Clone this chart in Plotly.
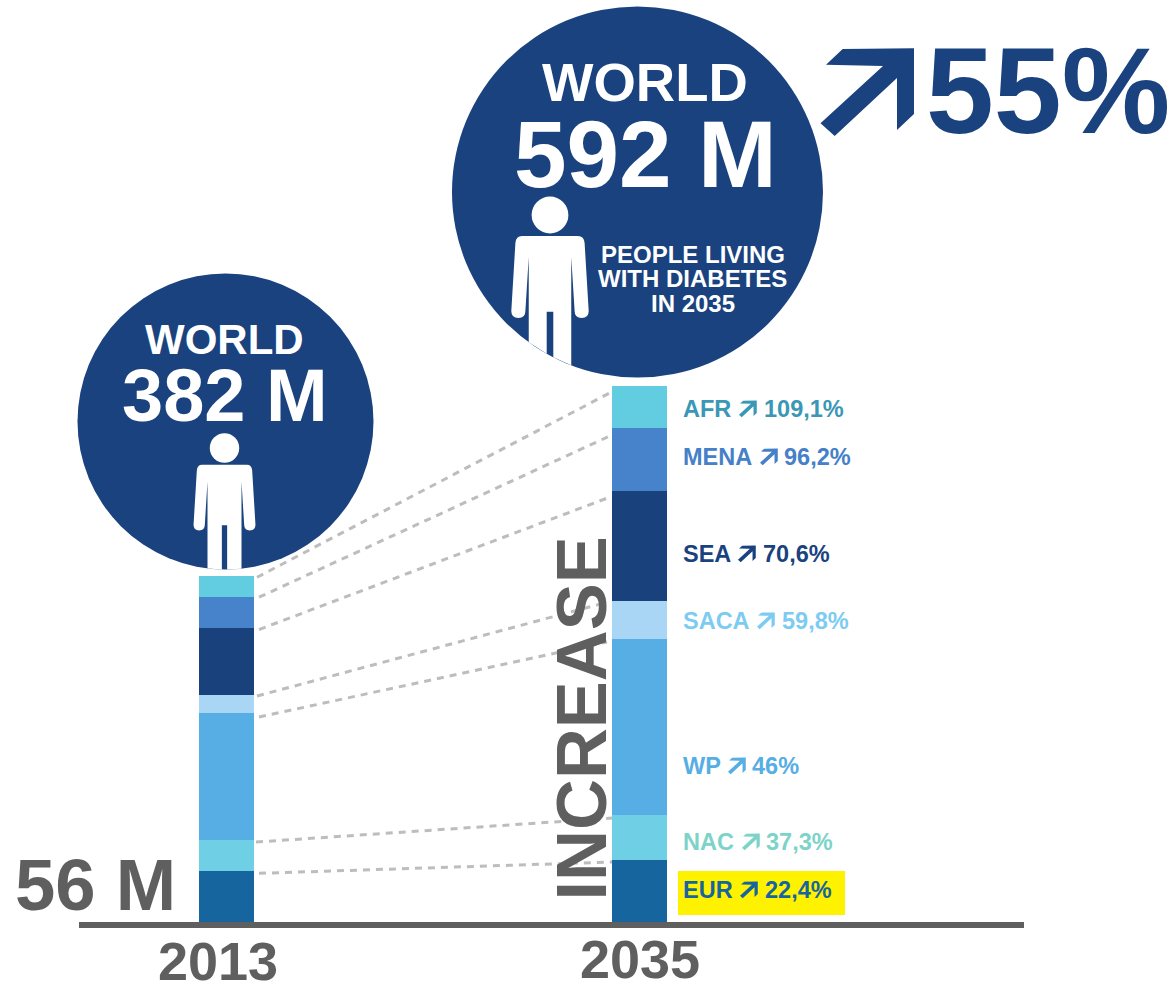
import math
import plotly.graph_objects as go

W, H = 1174, 987
FONT = "Liberation Sans"
GREY = "#5f5f5f"
NAVY = "#19427e"

# Diabetes prevalence in millions, listed from the base of each column upward
regions = ["EUR", "NAC", "WP", "SACA", "SEA", "MENA", "AFR"]
years = [2013, 2035]
people_2013 = [56, 34.6, 140.3, 19.9, 74, 34.1, 23.1]
people_2035 = [68.5, 49.7, 194.5, 42, 121.5, 69.7, 46.6]
growth = ["22,4%", "37,3%", "46%", "59,8%", "70,6%", "96,2%", "109,1%"]

bar_colors = ["#17659f", "#6fcfe4", "#57aee4", "#a9d6f5", "#19417c", "#4783ca", "#62cce0"]
text_colors = ["#17659f", "#7dd3c8", "#56aee4", "#7ecbf2", "#19427e", "#4580c8", "#3a97b5"]

# Axis calibration: pixels per million and per year, and the pixel of the origin
PX_PER_M = 0.905
BASE_PX = 922
PX_PER_YEAR = 413 / 22
BAR_2013_PX = 226.5
BAR_W = 55 / PX_PER_YEAR


def px(x, y):
    return x / W, 1 - y / H


def val_from_offset(v, offset_px):
    return v - offset_px / PX_PER_M


fig = go.Figure()

# Dashed links between the two columns, running from each segment top
top13 = top35 = 0
tops = []
for a, b in zip(people_2013, people_2035):
    top13 += a
    top35 += b
    tops.append((top13, top35))

start_drop = [2, 2, 4, 1, 1.5, 0, 1]
end_drop = [2, 3, 3, 1, 6, 7, 6]
start_gap = [5, 2, 5, 3, 5, 5, 3]
end_gap = [0, 0, 5, 4, 2, 0, 0]
for (t13, t35), d0, d1, g0, g1 in zip(tops, start_drop, end_drop, start_gap, end_gap):
    fig.add_trace(go.Scatter(
        x=[2013 + BAR_W / 2 + g0 / PX_PER_YEAR, 2035 - BAR_W / 2 - g1 / PX_PER_YEAR],
        y=[val_from_offset(t13, d0), val_from_offset(t35, d1)],
        mode="lines",
        line=dict(color="#bdbdbd", width=3, dash="7px,6px"),
        hoverinfo="skip",
        showlegend=False,
    ))

# Stacked regional columns
for name, a, b, col in zip(regions, people_2013, people_2035, bar_colors):
    fig.add_trace(go.Bar(
        x=years, y=[a, b], name=name, width=BAR_W,
        marker=dict(color=col, line=dict(width=0)),
        showlegend=False,
    ))


def polygon(points):
    parts = []
    for i, (x, y) in enumerate(points):
        u, v = px(x, y)
        parts.append(f"{'M' if i == 0 else 'L'}{u:.5f},{v:.5f}")
    return " ".join(parts) + " Z"


def disc(cx, cy, r, color):
    x0, y0 = px(cx - r, cy - r)
    x1, y1 = px(cx + r, cy + r)
    return dict(type="circle", xref="paper", yref="paper", x0=x0, x1=x1, y0=y0, y1=y1,
                fillcolor=color, line=dict(width=0), layer="below")


ARROW = [(843.7, 49), (915, 48.3), (915, 114), (898, 130), (898, 78), (835.7, 136),
         (821.5, 123.3), (884, 66), (827, 64.7)]


def arrow(x, y, color, scale=1.0):
    return dict(type="path", xref="paper", yref="paper", line=dict(width=0), fillcolor=color,
                path=polygon([(x + (p - 821.5) * scale, y + (q - 48.3) * scale) for p, q in ARROW]))


def person(hx, hy, s, ccx, ccy, r):
    """Standing figure whose legs stop at the edge of the disc behind it."""
    def edge(x):
        return ccy + math.sqrt(r * r - (x - ccx) ** 2)

    def P(dx, dy):
        u, v = px(hx + dx * s, hy + dy * s)
        return f"{u:.5f},{v:.5f}"

    def leg(dx):
        x = hx + dx * s
        u, v = px(x, edge(x))
        return f"{u:.5f},{v:.5f}"

    body = (f"M{P(-28, 21)} L{P(28, 21)} Q{P(34, 21)} {P(34.6, 28)} "
            f"L{P(38.7, 96)} Q{P(38.7, 103)} {P(31.6, 103)} "
            f"Q{P(24.6, 103)} {P(24.6, 96)} L{P(21.25, 42)} "
            f"L{leg(21.25)} L{leg(3.3)} L{P(3.3, 96.7)} L{P(-3.3, 96.7)} "
            f"L{leg(-3.3)} L{leg(-21.25)} L{P(-21.25, 42)} L{P(-24.6, 96)} "
            f"Q{P(-24.6, 103)} {P(-31.6, 103)} Q{P(-38.7, 103)} {P(-38.7, 96)} "
            f"L{P(-34.6, 28)} Q{P(-34, 21)} {P(-28, 21)} Z")
    x0, y0 = px(hx - 18.4 * s, hy - 18.4 * s)
    x1, y1 = px(hx + 18.4 * s, hy + 18.4 * s)
    return [
        dict(type="path", xref="paper", yref="paper", path=body,
             fillcolor="white", line=dict(width=0)),
        dict(type="circle", xref="paper", yref="paper", x0=x0, x1=x1, y0=y0, y1=y1,
             fillcolor="white", line=dict(width=0)),
    ]


shapes = [
    disc(225.5, 421.5, 148, NAVY),
    disc(637.5, 192, 185.5, NAVY),
]
shapes += person(224.5, 448, 0.8, 225.5, 421.5, 148)
shapes += person(550, 215, 1.0, 637.5, 192, 185.5)
shapes.append(arrow(820.5, 48.3, NAVY))

# Baseline
x0, y0 = px(79, 928)
x1, y1 = px(1024, 922)
shapes.append(dict(type="rect", xref="paper", yref="paper", x0=x0, x1=x1, y0=y0, y1=y1,
                   fillcolor=GREY, line=dict(width=0)))

# Highlight behind the European figure
x0, y0 = px(678, 915)
x1, y1 = px(845, 871)
shapes.append(dict(type="rect", xref="paper", yref="paper", x0=x0, x1=x1, y0=y0, y1=y1,
                   fillcolor="#fff200", line=dict(width=0), layer="below"))

annotations = []


def label(text, x, y, size, color, anchor="center", angle=0, box_height=None):
    u, v = px(x, y)
    item = dict(
        text=text, x=u, y=v, xref="paper", yref="paper", showarrow=False,
        xanchor=anchor, yanchor="middle", textangle=angle, borderpad=0,
        font=dict(family=FONT, size=size, color=color, weight="bold"),
    )
    if box_height:
        item["height"] = box_height
    annotations.append(item)


label("WORLD", 224.5, 339.5, 42, "white")
label("382 M", 225, 395, 74, "white")
label("WORLD", 645, 83, 54.5, "white")
label("592 M", 645, 154, 94.5, "white")
label("PEOPLE LIVING", 692.5, 254, 24, "white")
label("WITH DIABETES", 692.5, 278.5, 24, "white")
label("IN 2035", 692.5, 303, 24, "white")
label("55%", 1047.5, 91, 122, NAVY)
label("56 M", 95.5, 884, 72.5, GREY)
label(str(years[0]), 218, 961, 54, GREY, box_height=50)
label(str(years[1]), 640, 959, 54, GREY, box_height=50)
label("INCREASE", 581, 718.5, 70.5, GREY, angle=-90)

# Regional growth labels: name, arrow and percentage
row_y = [890, 842, 766, 621, 554, 457, 409]
arrow_x = [740, 742, 728, 757, 738, 760, 739]
pct_x = [763.5, 764.5, 750.5, 780.5, 761.5, 782.5, 762.5]
for name, pct, col, y, ax, pxx in zip(regions, growth, text_colors, row_y, arrow_x, pct_x):
    label(name, 681.5, y, 23.5, col, anchor="left")
    label(pct, pxx, y, 23.5, col, anchor="left")
    shapes.append(arrow(ax, y - 8.5, col, 0.19))

fig.update_layout(
    width=W, height=H,
    autosize=False,
    barmode="stack",
    bargap=0,
    margin=dict(l=0, r=0, t=0, b=0),
    paper_bgcolor="white",
    plot_bgcolor="white",
    showlegend=False,
    xaxis=dict(
        range=[2013 - BAR_2013_PX / PX_PER_YEAR, 2013 + (W - BAR_2013_PX) / PX_PER_YEAR],
        visible=False, fixedrange=True,
    ),
    yaxis=dict(
        range=[(BASE_PX - H) / PX_PER_M, BASE_PX / PX_PER_M],
        visible=False, fixedrange=True,
    ),
    shapes=shapes,
    annotations=annotations,
)

fig.write_html("out.html", config=dict(displayModeBar=False))
